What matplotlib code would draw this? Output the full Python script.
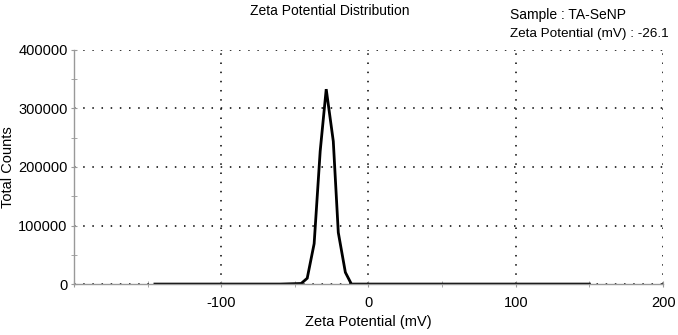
import numpy as np
import matplotlib.pyplot as plt
from matplotlib.ticker import MultipleLocator, FuncFormatter

plt.rcParams['font.family'] = ['Liberation Sans', 'DejaVu Sans']

# zeta potential (mV) and total counts
zeta = [-145, -100, -60, -45.7, -41.6, -36.9, -32.8, -28.7, -23.9, -20.5, -15.7, -11.6, 0, 50, 100, 150]
counts = [0, 0, 0, 1000, 10000, 69000, 227000, 333000, 244000, 88000, 20000, 0, 0, 0, 0, 0]

sample = 'TA-SeNP'
mean_zeta = -26.1

fig = plt.figure(figsize=(6.78, 3.35), dpi=100)
ax = fig.add_axes([0.109, 0.152, 0.869, 0.699])

ax.plot(zeta, counts, color='black', lw=2.0, solid_joinstyle='miter')

ax.set_xlim(-200, 200)
ax.set_ylim(0, 400000)
ax.xaxis.set_major_locator(MultipleLocator(100))
ax.xaxis.set_minor_locator(MultipleLocator(50))
ax.yaxis.set_major_locator(MultipleLocator(100000))
ax.yaxis.set_minor_locator(MultipleLocator(50000))
ax.xaxis.set_major_formatter(FuncFormatter(lambda v, p: '' if v <= -200 else f'{v:.0f}'))

ax.grid(True, which='major', color='black', linestyle=(0, (1, 5)), lw=1.1)

for s in ['top', 'right']:
    ax.spines[s].set_visible(False)
for s in ['left', 'bottom']:
    ax.spines[s].set_color('#999999')
    ax.spines[s].set_linewidth(1)

ax.tick_params(which='both', direction='inout', length=5, color='#999999', labelsize=10.5)
ax.tick_params(axis='y', which='major', pad=2)
ax.tick_params(axis='x', which='major', pad=6)

ax.set_xlabel('Zeta Potential (mV)', fontsize=10.5, labelpad=4)
ax.set_ylabel('Total Counts', fontsize=10.5, labelpad=2)

fig.text(0.487, 0.968, 'Zeta Potential Distribution', ha='center', va='center', fontsize=10)
fig.text(0.752, 0.955, 'Sample : ' + sample, ha='left', va='center', fontsize=10)
fig.text(0.752, 0.9, 'Zeta Potential (mV) : ' + str(mean_zeta), ha='left', va='center', fontsize=9.7)

fig.savefig('out.png', dpi=100)
